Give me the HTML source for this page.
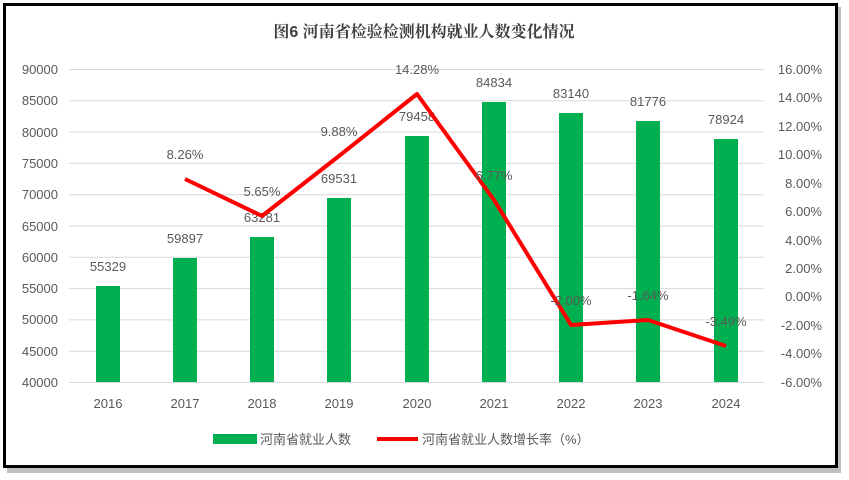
<!DOCTYPE html>
<html><head><meta charset="utf-8"><style>
body{margin:0;background:#fff;width:849px;height:480px;overflow:hidden}
svg{display:block}
text{font-family:"Liberation Sans","Noto Sans CJK SC",sans-serif;fill:#595959;font-size:13px}
</style></head><body>
<svg width="849" height="480" xmlns="http://www.w3.org/2000/svg">
<rect x="7" y="7" width="834" height="466" fill="#bfbfbf"/>
<rect x="4.5" y="4.5" width="832" height="462" fill="#fff" stroke="#000" stroke-width="3"/>
<text x="424" y="37" text-anchor="middle" style="font-size:16px;font-weight:bold;fill:#404040;font-family:'Liberation Sans','Noto Serif CJK SC',serif">图6  河南省检验检测机构就业人数变化情况</text>
<g stroke="#d9d9d9" stroke-width="1">
<line x1="69" x2="764" y1="69.5" y2="69.5"/><line x1="69" x2="764" y1="100.8" y2="100.8"/>
<line x1="69" x2="764" y1="132.1" y2="132.1"/><line x1="69" x2="764" y1="163.4" y2="163.4"/>
<line x1="69" x2="764" y1="194.7" y2="194.7"/><line x1="69" x2="764" y1="226" y2="226"/>
<line x1="69" x2="764" y1="257.3" y2="257.3"/><line x1="69" x2="764" y1="288.6" y2="288.6"/>
<line x1="69" x2="764" y1="319.9" y2="319.9"/><line x1="69" x2="764" y1="351.2" y2="351.2"/>
</g>
<g text-anchor="end">
<text x="58" y="74">90000</text><text x="58" y="105">85000</text><text x="58" y="137">80000</text>
<text x="58" y="168">75000</text><text x="58" y="199">70000</text><text x="58" y="231">65000</text>
<text x="58" y="262">60000</text><text x="58" y="293">55000</text><text x="58" y="324">50000</text>
<text x="58" y="356">45000</text><text x="58" y="387">40000</text>
</g>
<g text-anchor="end">
<text x="822" y="74">16.00%</text><text x="822" y="102">14.00%</text><text x="822" y="131">12.00%</text>
<text x="822" y="159">10.00%</text><text x="822" y="188">8.00%</text><text x="822" y="216">6.00%</text>
<text x="822" y="245">4.00%</text><text x="822" y="273">2.00%</text><text x="822" y="301">0.00%</text>
<text x="822" y="330">-2.00%</text><text x="822" y="358">-4.00%</text><text x="822" y="387">-6.00%</text>
</g>
<g fill="#00b050">
<rect x="96" y="286" width="24" height="96"/>
<rect x="173" y="258" width="24" height="124"/>
<rect x="250" y="237" width="24" height="145"/>
<rect x="327" y="198" width="24" height="184"/>
<rect x="405" y="136" width="24" height="246"/>
<rect x="482" y="102" width="24" height="280"/>
<rect x="559" y="113" width="24" height="269"/>
<rect x="636" y="121" width="24" height="261"/>
<rect x="714" y="139" width="24" height="243"/>
</g>
<line x1="69" x2="764" y1="382.5" y2="382.5" stroke="#d9d9d9"/>
<g text-anchor="middle">
<text x="108" y="271">55329</text><text x="185" y="243">59897</text><text x="262" y="222">63281</text>
<text x="339" y="183">69531</text><text x="417" y="121">79458</text><text x="494" y="87">84834</text>
<text x="571" y="98">83140</text><text x="648" y="106">81776</text><text x="726" y="124">78924</text>
</g>
<polyline points="185,179 262,216 339,156 417,94 494,200 571,325 648,320 726,346" fill="none" stroke="#ff0000" stroke-width="4" stroke-linejoin="round"/>
<g text-anchor="middle">
<text x="185" y="159">8.26%</text><text x="262" y="196">5.65%</text><text x="339" y="136">9.88%</text>
<text x="417" y="74">14.28%</text><text x="494" y="180">6.77%</text><text x="571" y="305">-2.00%</text>
<text x="648" y="300">-1.64%</text><text x="726" y="326">-3.49%</text>
</g>
<g text-anchor="middle">
<text x="108" y="408">2016</text><text x="185" y="408">2017</text><text x="262" y="408">2018</text>
<text x="339" y="408">2019</text><text x="417" y="408">2020</text><text x="494" y="408">2021</text>
<text x="571" y="408">2022</text><text x="648" y="408">2023</text><text x="726" y="408">2024</text>
</g>
<rect x="213" y="434" width="44" height="10" fill="#00b050"/>
<text x="260" y="444">河南省就业人数</text>
<line x1="377" x2="418" y1="439" y2="439" stroke="#ff0000" stroke-width="4"/>
<text x="422" y="444">河南省就业人数增长率（%）</text>
</svg>
</body></html>
